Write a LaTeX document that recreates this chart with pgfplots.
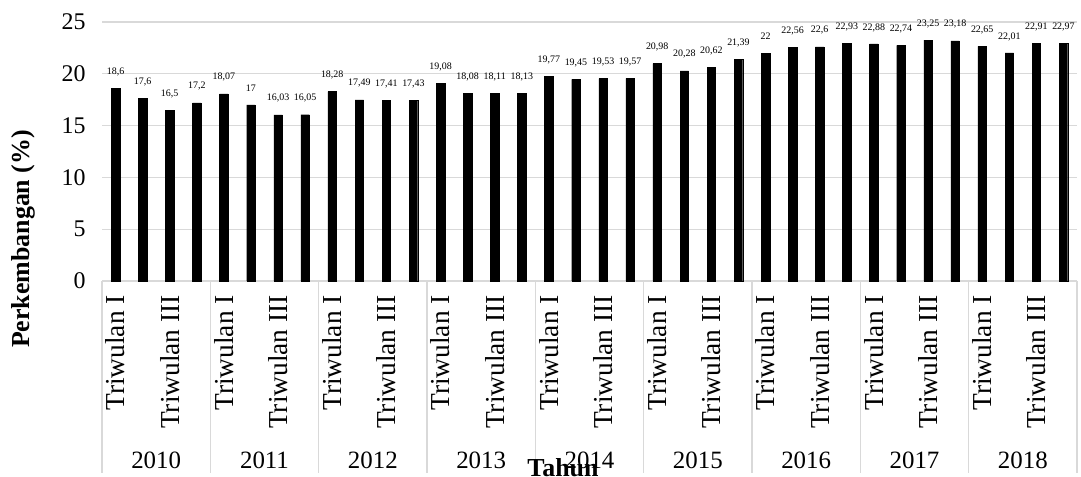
\documentclass[border=0pt]{standalone}
\usepackage{fontspec}
\setmainfont{Liberation Serif}
\usepackage{pgfplots}
\pgfplotsset{compat=1.18}
\definecolor{gridgray}{HTML}{D9D9D9}
\begin{document}
\begin{tikzpicture}
\useasboundingbox (0bp,0bp) rectangle (1081bp,477bp);
\begin{axis}[
  at={(102bp,196bp)}, anchor=south west,
  width=975bp, height=259bp, scale only axis,
  clip=false,
  ymin=0, ymax=25, ytick={0,5,...,25},
  xmin=-0.5, xmax=35.5,
  ybar, bar width=8.5bp,
  ymajorgrids, grid style={draw=gridgray, line width=1.2bp},
  axis lines*=left,
  y axis line style={draw=none},
  x axis line style={draw=gridgray, line width=1.2bp},
  major tick length=0pt,
  /pgf/number format/assume math mode=true,
  /pgf/number format/use comma,
  /pgf/number format/fixed,
  /pgf/number format/precision=2,
  yticklabel style={font=\fontsize{24}{24}\selectfont, xshift=-13bp},
  xtick={0,2,...,34},
  xticklabels={Triwulan I,Triwulan III,Triwulan I,Triwulan III,Triwulan I,Triwulan III,Triwulan I,Triwulan III,Triwulan I,Triwulan III,Triwulan I,Triwulan III,Triwulan I,Triwulan III,Triwulan I,Triwulan III,Triwulan I,Triwulan III},
  xticklabel style={yshift=-14bp, rotate=90, anchor=east, inner sep=0pt, font=\fontsize{27.5}{27.5}\selectfont},
  nodes near coords,
  nodes near coords style={font=\fontsize{10}{10}\selectfont, anchor=center, yshift=16.5bp, text=black},
]
\addplot[fill=black, draw=black] coordinates {
(0,18.6) (1,17.6) (2,16.5) (3,17.2)
(4,18.07) (5,17) (6,16.03) (7,16.05)
(8,18.28) (9,17.49) (10,17.41) (11,17.43)
(12,19.08) (13,18.08) (14,18.11) (15,18.13)
(16,19.77) (17,19.45) (18,19.53) (19,19.57)
(20,20.98) (21,20.28) (22,20.62) (23,21.39)
(24,22) (25,22.56) (26,22.6) (27,22.93)
(28,22.88) (29,22.74) (30,23.25) (31,23.18)
(32,22.65) (33,22.01) (34,22.91) (35,22.97)
};
\draw[gridgray, line width=1.2bp] (axis cs:-0.5,0) -- ++(0bp,-192bp);
\draw[gridgray, line width=1.2bp] (axis cs:3.5,0) -- ++(0bp,-192bp);
\draw[gridgray, line width=1.2bp] (axis cs:7.5,0) -- ++(0bp,-192bp);
\draw[gridgray, line width=1.2bp] (axis cs:11.5,0) -- ++(0bp,-192bp);
\draw[gridgray, line width=1.2bp] (axis cs:15.5,0) -- ++(0bp,-192bp);
\draw[gridgray, line width=1.2bp] (axis cs:19.5,0) -- ++(0bp,-192bp);
\draw[gridgray, line width=1.2bp] (axis cs:23.5,0) -- ++(0bp,-192bp);
\draw[gridgray, line width=1.2bp] (axis cs:27.5,0) -- ++(0bp,-192bp);
\draw[gridgray, line width=1.2bp] (axis cs:31.5,0) -- ++(0bp,-192bp);
\draw[gridgray, line width=1.2bp] (axis cs:35.5,0) -- ++(0bp,-192bp);
\path[font=\fontsize{25}{25}\selectfont, every node/.style={anchor=base, inner sep=0pt}]
  ([yshift=-187bp]axis cs:1.5,0) node {2010}
  ([yshift=-187bp]axis cs:5.5,0) node {2011}
  ([yshift=-187bp]axis cs:9.5,0) node {2012}
  ([yshift=-187bp]axis cs:13.5,0) node {2013}
  ([yshift=-187bp]axis cs:17.5,0) node {2014}
  ([yshift=-187bp]axis cs:21.5,0) node {2015}
  ([yshift=-187bp]axis cs:25.5,0) node {2016}
  ([yshift=-187bp]axis cs:29.5,0) node {2017}
  ([yshift=-187bp]axis cs:33.5,0) node {2018};
\end{axis}
\node[rotate=90, font=\fontsize{26}{26}\selectfont\bfseries] at (23bp,238bp) {Perkembangan (\%)};
\node[anchor=base, font=\fontsize{26}{26}\selectfont\bfseries, inner sep=0pt] at (563bp,1bp) {Tahun};
\end{tikzpicture}
\end{document}
